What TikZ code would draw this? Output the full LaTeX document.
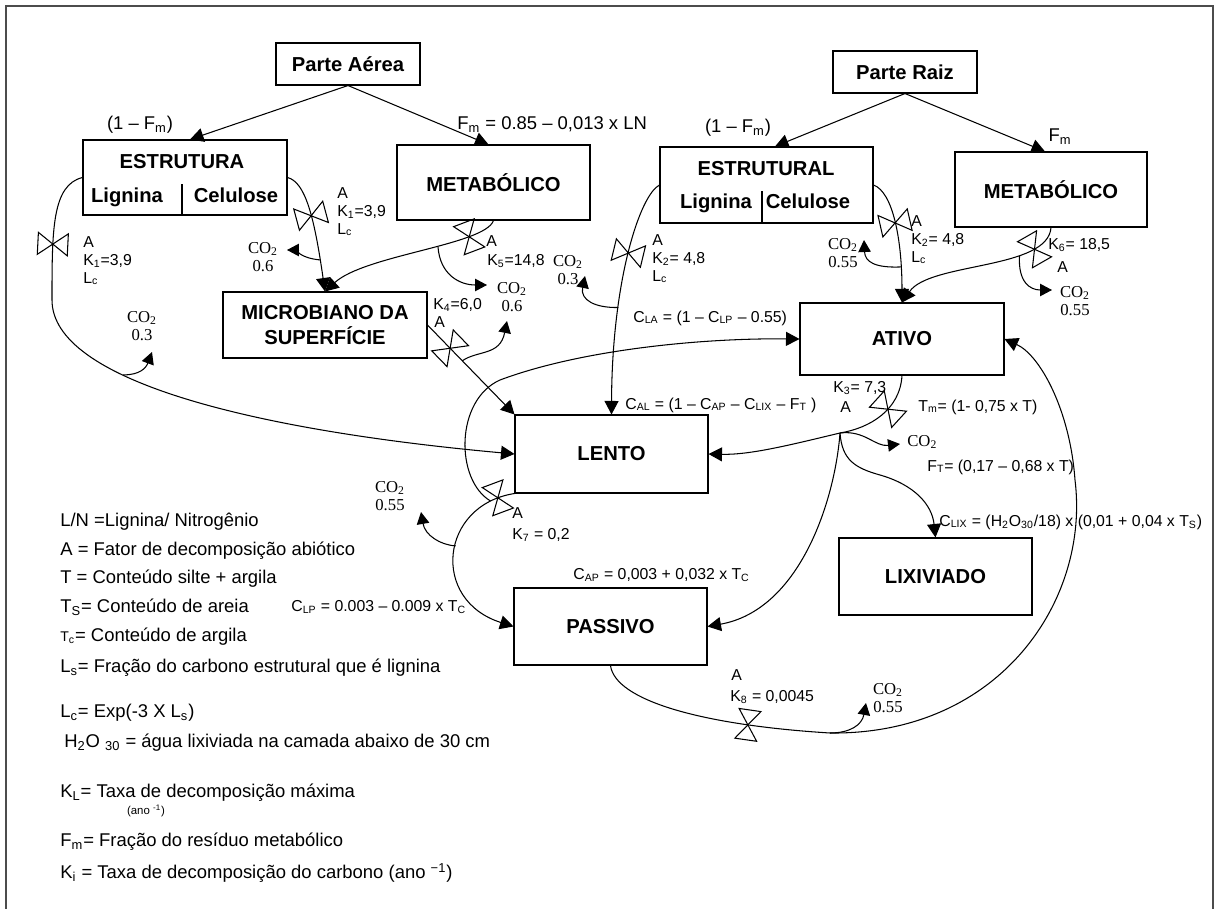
\documentclass[tikz,border=0pt]{standalone}
\usepackage{fontspec}
\setmainfont{Liberation Sans}
\newfontfamily\tms{Liberation Serif}
\usetikzlibrary{arrows.meta}
\newcommand{\subx}[1]{\textsubscript{#1}}
\newcommand{\supx}[1]{\textsuperscript{#1}}

\begin{document}
\begin{tikzpicture}[
    x=0.02cm, y=-0.02cm,
    box/.style = {draw, rectangle, line width=0.6pt, inner sep=0pt, align=center, font=\bfseries\fontsize{11.5}{14}\selectfont},
    ttl/.style = {inner sep=0pt, text height=8.5pt, text depth=2.5pt, font=\bfseries\fontsize{11.5}{14}\selectfont},
    lbl/.style = {inner sep=0pt, font=\fontsize{9}{10}\selectfont},
    top/.style = {inner sep=0pt, font=\fontsize{10.5}{12}\selectfont},
    leg/.style = {anchor=west, inner sep=0pt, font=\fontsize{10.5}{12}\selectfont},
    co/.style = {inner sep=0pt, align=center, font=\tms\fontsize{9.5}{10.5}\selectfont},
    flow/.style = {line width=0.6pt, -{Triangle[length=2.7mm,width=2.8mm]}},
    gas/.style = {line width=0.6pt, -{Triangle[length=2.4mm,width=2.5mm]}},
    valve/.pic = {\draw[-, line width=0.6pt] (-11,15) -- (11,15) -- (-11,-15) -- (11,-15) -- cycle;}
  ]
  \useasboundingbox (0,0) rectangle (1215,909);
  \draw[line width=0.9pt, black!70] (6,909) -- (6,6) -- (1213,6) -- (1213,909);

  % compartimentos
  \node[box, minimum width=2.88cm, minimum height=0.84cm] (aerea) at (348,64) {Parte Aérea};
  \node[box, minimum width=2.88cm, minimum height=0.84cm] (raiz) at (905,72) {Parte Raiz};
  \node[box, minimum width=4.08cm, minimum height=1.5cm] (estA) at (185,177.5) {};
  \node[box, minimum width=3.86cm, minimum height=1.5cm] (metA) at (493.5,182.5) {METABÓLICO};
  \node[box, minimum width=4.26cm, minimum height=1.52cm] (estR) at (766.5,185) {};
  \node[box, minimum width=3.84cm, minimum height=1.5cm] (metR) at (1051,189.5) {METABÓLICO};
  \node[box, minimum width=4.08cm, minimum height=1.32cm] (micro) at (325,325) {MICROBIANO DA\\SUPERFÍCIE};
  \node[box, minimum width=4.08cm, minimum height=1.44cm] (ativo) at (902,339) {ATIVO};
  \node[box, minimum width=3.86cm, minimum height=1.56cm] (lento) at (611.5,454) {LENTO};
  \node[box, minimum width=3.86cm, minimum height=1.54cm] (lixi) at (935.5,576.5) {LIXIVIADO};
  \node[box, minimum width=3.86cm, minimum height=1.54cm] (passivo) at (610.5,626.5) {PASSIVO};

  \node[ttl] (estAt) at (182,163) {ESTRUTURA};
  \node[ttl] (ligA) at (127,197) {Lignina};
  \node[ttl] (celA) at (236,197) {Celulose};
  \draw[line width=0.6pt] ([xshift=-0.06cm]estA.south) -- ++(0,-32);
  \node[ttl] (estRt) at (766,170) {ESTRUTURAL};
  \node[ttl] (ligR) at (716,203) {Lignina};
  \node[ttl] (celR) at (808,203) {Celulose};
  \draw[line width=0.6pt] ([xshift=-0.09cm]estR.south) -- ++(0,-33);

  % entradas
  \draw[flow] (aerea.south) -- ([xshift=0.1cm]estA.north);
  \draw[flow] (aerea.south) -- ([xshift=-0.1cm]metA.north);
  \draw[flow] (raiz.south) -- ([xshift=0.17cm]estR.north);
  \draw[flow] (raiz.south) -- ([xshift=-0.12cm]metR.north);
  \node[top] (fmA1) at (140,125) {(1 – F\subx{m})};
  \node[top, anchor=west] (fmA2) at (457,125) {F\subx{m} = 0.85 – 0,013 x LN};
  \node[top] (fmR1) at (738,128) {(1 – F\subx{m})};
  \node[top] (fmR2) at (1060,137) {F\subx{m}};

  % estrutura aerea
  \draw[flow] (estA.west) .. controls (52,185) and (52,230) .. (52,300) pic[pos=0.7, sloped] {valve}
    .. controls (52,380) and (250,430) .. (lento.west) coordinate[pos=0.36] (c1);
  \draw[gas] (c1) .. controls (140,375) and (146,368) .. (152,352);
  \node[co] (co1) at (142,326) {CO\subx{2}\\0.3};
  \node[lbl, align=left, anchor=west] (k1a) at (83,261) {A\\K\subx{1}=3,9\\L\subx{c}};

  \draw[flow] (estA.east) .. controls (305,182) and (314,215) .. (micro.north) pic[pos=0.57, sloped] {valve} coordinate[pos=0.85] (c2);
  \draw[gas] (c2) .. controls (300,258) and (295,250) .. (287,250);
  \node[co] (co2) at (263,257) {CO\subx{2}\\0.6};
  \node[lbl, align=left, anchor=west] (k1b) at (337,212) {A\\K\subx{1}=3,9\\L\subx{c}};

  % metabolico aereo
  \draw[flow] (metA.south) .. controls (485,245) and (365,255) .. (micro.north) pic[pos=0.25, sloped] {valve} coordinate[pos=0.42] (c3);
  \draw[gas] (c3) .. controls (440,275) and (460,285) .. (487,285);
  \node[co] (co3) at (512,297) {CO\subx{2}\\0.6};
  \node[lbl, anchor=west] (k5a) at (486,241) {A};
  \node[lbl, anchor=west] (k5b) at (487,261) {K\subx{5}=14,8};

  % microbiano -> lento
  \draw[flow] (micro.east) -- (lento.north west) pic[pos=0.26, sloped] {valve} coordinate[pos=0.4] (c4);
  \draw[gas] (c4) .. controls (478,350) and (500,356) .. (507,321);
  \node[lbl, anchor=west] (k4a) at (433,305) {K\subx{4}=6,0};
  \node[lbl, anchor=west] (k4b) at (434,322) {A};

  % estrutural raiz
  \draw[flow] (estR.west) .. controls (640,195) and (612,280) .. (lento.north) pic[pos=0.5, sloped] {valve} coordinate[pos=0.7] (c5);
  \draw[gas] (c5) .. controls (595,308) and (580,300) .. (585,276);
  \node[co] (co5) at (568,270) {CO\subx{2}\\0.3};
  \node[lbl, align=left, anchor=west] (k2a) at (652,259) {A\\K\subx{2}= 4,8\\L\subx{c}};

  \draw[flow] (estR.east) .. controls (893,192) and (902,240) .. (ativo.north) pic[pos=0.5, sloped] {valve} coordinate[pos=0.8] (c6);
  \draw[gas] (c6) .. controls (875,268) and (865,262) .. (864,240);
  \node[co] (co6) at (843,253) {CO\subx{2}\\0.55};
  \node[lbl, align=left, anchor=west] (k2b) at (911,240) {A\\K\subx{2}= 4,8\\L\subx{c}};

  % metabolico raiz
  \draw[flow] (metR.south) .. controls (1048,270) and (930,262) .. (ativo.north) pic[pos=0.22, sloped] {valve} coordinate[pos=0.32] (c7);
  \draw[gas] (c7) .. controls (1018,282) and (1030,290) .. (1052,290);
  \node[co] (co7) at (1075,301) {CO\subx{2}\\0.55};
  \node[lbl, anchor=west] (k6a) at (1048,245) {K\subx{6}= 18,5};
  \node[lbl, anchor=west] (k6b) at (1057,267) {A};

  % ativo
  \coordinate (tb) at (840,433);
  \draw[flow] (ativo.south) .. controls (900,410) and (870,428) .. (tb) pic[pos=0.4, sloped] {valve}
    .. controls (790,445) and (750,455) .. (lento.east);
  \draw[gas] (tb) .. controls (865,430) and (875,447) .. (900,444);
  \draw[flow] (tb) .. controls (842,460) and (855,468) .. (880,475) .. controls (915,485) and (932,505) .. (lixi.north);
  \draw[flow] (tb) .. controls (835,500) and (800,610) .. (passivo.east);
  \node[lbl, anchor=west] (k3a) at (833,388) {K\subx{3}= 7,3};
  \node[lbl, anchor=west] (k3b) at (840,407) {A};
  \node[lbl, anchor=west] (tm) at (918,407) {T\subx{m}= (1- 0,75 x T)};
  \node[co, anchor=west] (co8) at (907,442) {CO\subx{2}};
  \node[lbl, anchor=west] (ft) at (927,467) {F\subx{T}= (0,17 – 0,68 x T)};
  \node[lbl, anchor=west] (clix) at (939,522) {C\subx{LIX} = (H\subx{2}O\subx{30}/18) x (0,01 + 0,04 x T\subx{S})};
  \node[lbl, anchor=west] (cal) at (625,405) {C\subx{AL} = (1 – C\subx{AP} – C\subx{LIX} – F\subx{T} )};
  \node[lbl, anchor=west] (cla) at (633,318) {C\subx{LA} = (1 – C\subx{LP} – 0.55)};

  % lento
  \draw[flow] (lento.south west) .. controls (440,505) and (430,600) .. (passivo.west) pic[pos=0.08, sloped] {valve} coordinate[pos=0.12] (c9) coordinate[pos=0.45] (c8);
  \draw[gas] (c8) .. controls (440,545) and (425,535) .. (421,512);
  \draw[flow] (c9) .. controls (455,480) and (455,400) .. (500,380) .. controls (580,350) and (700,338) .. (ativo.west);
  \node[co] (co9) at (390,496) {CO\subx{2}\\0.55};
  \node[lbl, anchor=west] (k7a) at (512,513) {A};
  \node[lbl, anchor=west] (k7b) at (512,535) {K\subx{7} = 0,2};
  \node[lbl, anchor=west] (cap) at (573,575) {C\subx{AP} = 0,003 + 0,032 x T\subx{C}};
  \node[lbl, anchor=west] (clp) at (291,607) {C\subx{LP} = 0.003 – 0.009 x T\subx{C}};

  % passivo
  \coordinate (c10) at (830,733);
  \draw[flow] (passivo.south) .. controls (615,700) and (700,725) .. (c10) pic[pos=0.77, sloped] {valve}
    .. controls (1000,735) and (1090,600) .. (1075,480) .. controls (1070,410) and (1040,355) .. (ativo.east);
  \draw[gas] (c10) .. controls (850,733) and (862,725) .. (866,703);
  \node[co] (co10) at (888,698) {CO\subx{2}\\0.55};
  \node[lbl, anchor=west] (k8a) at (731,675) {A};
  \node[lbl, anchor=west] (k8b) at (730,697) {K\subx{8} = 0,0045};

  % legenda
  \node[leg] (l1) at (60,522) {L/N =Lignina/ Nitrogênio};
  \node[leg] (l2) at (60,551) {A = Fator de decomposição abiótico};
  \node[leg] (l3) at (60,579) {T = Conteúdo silte + argila};
  \node[leg] (l4) at (60,607) {T\subx{S}= Conteúdo de areia};
  \node[leg] (l5) at (60,637) {{\fontsize{8}{9}\selectfont T\subx{c}}= Conteúdo de argila};
  \node[leg] (l6) at (60,668) {L\subx{s}= Fração do carbono estrutural que é lignina};
  \node[leg] (l7) at (60,713) {L\subx{c}= Exp(-3 X L\subx{s})};
  \node[leg] (l8) at (64,743) {H\subx{2}O \subx{30} = água lixiviada na camada abaixo de 30 cm};
  \node[leg] (l9) at (60,793) {K\subx{L}= Taxa de decomposição máxima};
  \node[inner sep=0pt, font=\fontsize{6.5}{7}\selectfont] (l9b) at (146,811) {(ano \supx{-1})};
  \node[leg] (l10) at (60,842) {F\subx{m}= Fração do resíduo metabólico};
  \node[leg] (l11) at (60,873) {K\subx{i} = Taxa de decomposição do carbono (ano \supx{−1})};
\end{tikzpicture}
\end{document}
